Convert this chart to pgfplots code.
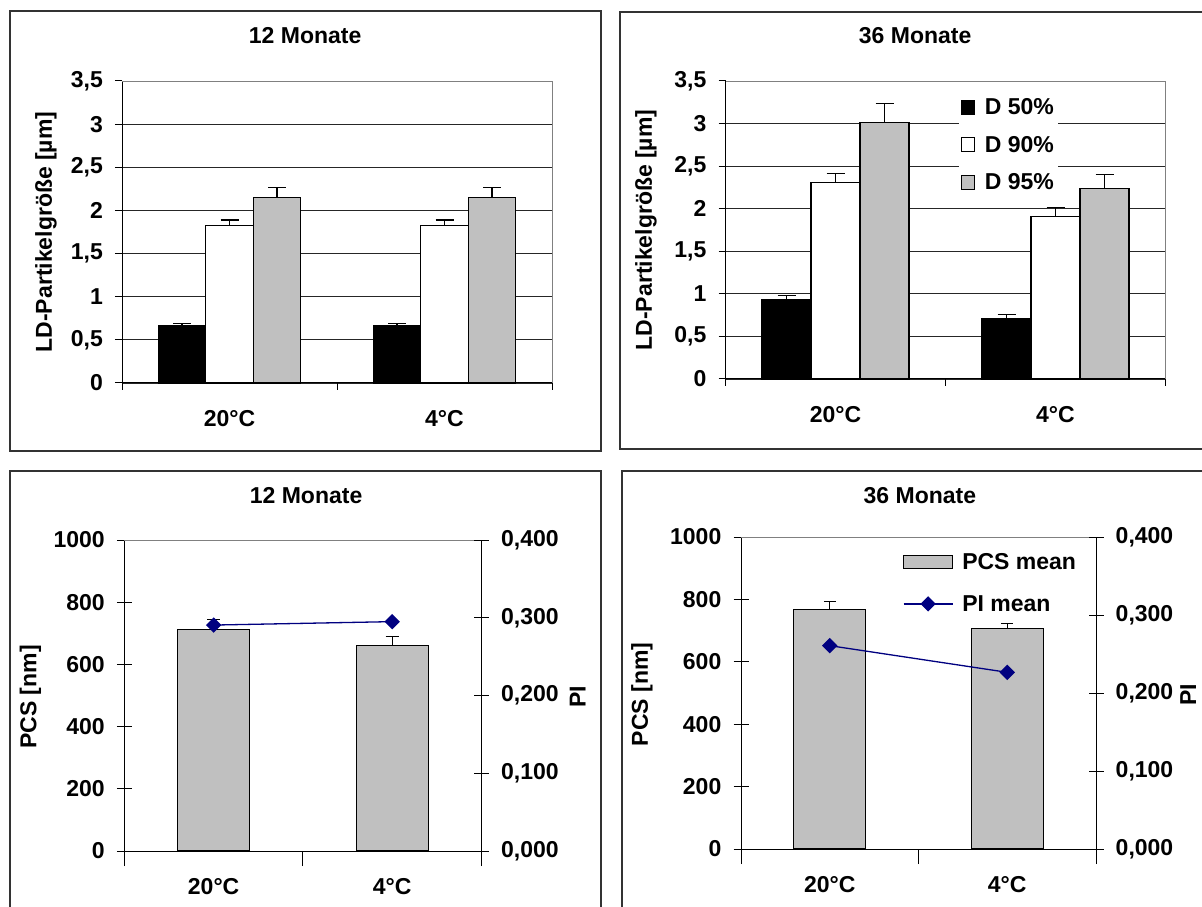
\documentclass[border=0pt]{standalone}
\usepackage{pgfplots}
\pgfplotsset{compat=1.18}
\usepackage{fontspec}
\setmainfont{Liberation Sans}

\definecolor{barg}{RGB}{192,192,192}
\definecolor{piblue}{RGB}{0,0,128}
\definecolor{framec}{RGB}{51,51,51}
\newcommand{\cf}{\bfseries\fontsize{23}{27}\selectfont}

\pgfplotsset{
  chart/.style={
    scale only axis, clip=false,
    xmin=-0.5, xmax=1.5, ymin=0,
    axis x line*=bottom, axis y line*=left,
    axis line style={black, line width=1pt},
    tick style={black, line width=1pt},
    /pgf/number format/assume math mode=true,
    /pgf/number format/use comma,
    /pgf/number format/1000 sep={},
    xtick={-0.5,0.5,1.5}, xticklabels={},
    extra x ticks={0,1},
    extra x tick labels={20°C,4°C},
    extra x tick style={major tick length=0pt,
      xticklabel style={anchor=center, yshift=-36pt}},
    yticklabel style={anchor=east, inner sep=0pt, xshift=-12pt},
    title style={anchor=center},
    ylabel style={anchor=center},
  },
  ldbar/.style={chart,
    ymax=3.5, ytick={0,0.5,1,1.5,2,2.5,3,3.5},
    ymajorgrids, major grid style={black!85, line width=0.8pt},
    tick align=outside, major tick length=7pt,
    ybar=0pt,
    ylabel={LD-Partikelgröße [µm]},
  },
  errb/.style={/pgfplots/error bars/.cd, y dir=plus, y explicit,
    error bar style={black, line width=1.2pt},
    error mark options={rotate=90, black, mark size=#1, line width=1.2pt},
    /pgfplots/.cd},
  errb/.default=9pt,
  sqleg/.style={legend image code/.code={\draw[##1, line width=1pt] (0pt,-7pt) rectangle (13pt,7pt);}},
  pileg/.style={legend image code/.code={\draw[mark repeat=2, mark phase=2, ##1] plot coordinates {(0pt,0pt) (24.5pt,0pt) (49pt,0pt)};}},
  pcsleg/.style={legend image code/.code={\draw[fill=barg, draw=black, line width=1pt] (0pt,-6.5pt) rectangle (49pt,6.5pt);}},
  pcsbar/.style={chart,
    ymax=1000, ytick={0,200,400,600,800,1000},
    tick align=center, major tick length=15pt,
    ybar, bar width=72pt,
    ylabel={PCS [nm]},
  },
  piaxis/.style={
    scale only axis, clip=false,
    xmin=-0.5, xmax=1.5, ymin=0, ymax=0.4,
    axis x line=none, axis y line*=right,
    axis line style={black, line width=1pt},
    tick style={black, line width=1pt},
    tick align=center, major tick length=15pt,
    ytick={0,0.1,0.2,0.3,0.4},
    /pgf/number format/assume math mode=true,
    /pgf/number format/.cd, fixed, fixed zerofill, precision=3, use comma,
    /pgfplots/.cd,
    yticklabel style={anchor=west, inner sep=0pt, xshift=12pt},
    ylabel={PI}, ylabel style={anchor=center},
  },
}

\begin{document}
\begin{tikzpicture}[font=\cf]
\useasboundingbox (0pt,0pt) rectangle (1202pt,906pt);

% frames
\draw[framec, line width=1.2pt] (10pt,455pt) rectangle (601pt,895pt);
\draw[framec, line width=1.2pt] (620pt,457pt) rectangle (1205pt,894pt);
\draw[framec, line width=1.2pt] (10pt,-5pt) rectangle (601pt,435pt);
\draw[framec, line width=1.2pt] (622pt,-5pt) rectangle (1205pt,435pt);

% top left
\begin{axis}[ldbar, at={(122pt,523pt)}, anchor=south west,
  width=430pt, height=302pt, bar width=47.5pt,
  title={12 Monate}, title style={at={(axis description cs:0.426,1.129)}},
  ylabel style={at={(axis description cs:-0.177,0.5)}}]
\addplot[fill=black, draw=black, line width=1.2pt, errb] coordinates {(0,0.667) +- (0,0.025) (1,0.667) +- (0,0.025)};
\addplot[fill=white, draw=black, line width=1.2pt, errb] coordinates {(0,1.823) +- (0,0.065) (1,1.823) +- (0,0.065)};
\addplot[fill=barg, draw=black, line width=1.2pt, errb] coordinates {(0,2.15) +- (0,0.115) (1,2.15) +- (0,0.115)};
\draw[gray, line width=0.8pt] (rel axis cs:0,1) -- (rel axis cs:1,1) -- (rel axis cs:1,0);
\end{axis}

% top right
\begin{axis}[ldbar, at={(725.5pt,527pt)}, anchor=south west,
  width=440pt, height=298pt, bar width=49pt,
  title={36 Monate}, title style={at={(axis description cs:0.431,1.131)}},
  ylabel style={at={(axis description cs:-0.181,0.5)}},
  legend style={at={(axis description cs:0.53,0.955)}, anchor=north west,
    fill=white, draw=none, inner sep=2pt, row sep=16pt, font=\cf,
    /tikz/every odd column/.append style={column sep=8pt}},
  legend cell align=left]
\addplot[fill=black, draw=black, line width=1.2pt, errb, sqleg] coordinates {(0,0.937) +- (0,0.04) (1,0.715) +- (0,0.04)};
\addplot[fill=white, draw=black, line width=1.2pt, errb, sqleg] coordinates {(0,2.305) +- (0,0.11) (1,1.906) +- (0,0.11)};
\addplot[fill=barg, draw=black, line width=1.2pt, errb, sqleg] coordinates {(0,3.016) +- (0,0.218) (1,2.242) +- (0,0.156)};
\draw[gray, line width=0.8pt] (rel axis cs:0,1) -- (rel axis cs:1,1) -- (rel axis cs:1,0);
\legend{D 50\%, D 90\%, D 95\%}
\end{axis}

% bottom left
\begin{axis}[pcsbar, at={(124.4pt,55pt)}, anchor=south west,
  width=357pt, height=311pt,
  title={12 Monate}, title style={at={(axis description cs:0.509,1.122)}},
  ylabel style={at={(axis description cs:-0.263,0.495)}}]
\addplot[fill=barg, draw=black, line width=1.2pt, errb=6.5pt] coordinates {(0,713) +- (0,32) (1,660) +- (0,30)};
\draw[gray, line width=0.8pt] (rel axis cs:0,1) -- (rel axis cs:1,1);
\end{axis}
\begin{axis}[piaxis, at={(124.4pt,55pt)}, anchor=south west,
  width=357pt, height=311pt,
  ylabel style={at={(axis description cs:1.27,0.495)}}]
\addplot[piblue, line width=1.3pt, mark=square*, mark size=4.8pt, mark options={rotate=45}] coordinates {(0,0.2906) (1,0.295)};
\end{axis}

% bottom right
\begin{axis}[pcsbar, at={(741pt,57pt)}, anchor=south west,
  width=355pt, height=312pt,
  title={36 Monate}, title style={at={(axis description cs:0.504,1.112)}},
  ylabel style={at={(axis description cs:-0.279,0.495)}}]
\addplot[fill=barg, draw=black, line width=1.2pt, errb=6pt] coordinates {(0,767) +- (0,25) (1,706) +- (0,17)};
\draw[gray, line width=0.8pt] (rel axis cs:0,1) -- (rel axis cs:1,1);
\end{axis}
\begin{axis}[piaxis, at={(741pt,57pt)}, anchor=south west,
  width=355pt, height=312pt,
  ylabel style={at={(axis description cs:1.26,0.495)}},
  legend style={at={(axis description cs:0.45,0.96)}, anchor=north west,
    fill=white, draw=none, inner sep=2pt, row sep=20pt, font=\cf,
    /tikz/every odd column/.append style={column sep=7pt}},
  legend cell align=left]
\addlegendimage{pcsleg}
\addlegendentry{PCS mean}
\addplot[piblue, line width=1.3pt, mark=square*, mark size=4.8pt, mark options={rotate=45}, pileg]
  coordinates {(0,0.2607) (1,0.2265)};
\addlegendentry{PI mean}
\end{axis}
\end{tikzpicture}
\end{document}
